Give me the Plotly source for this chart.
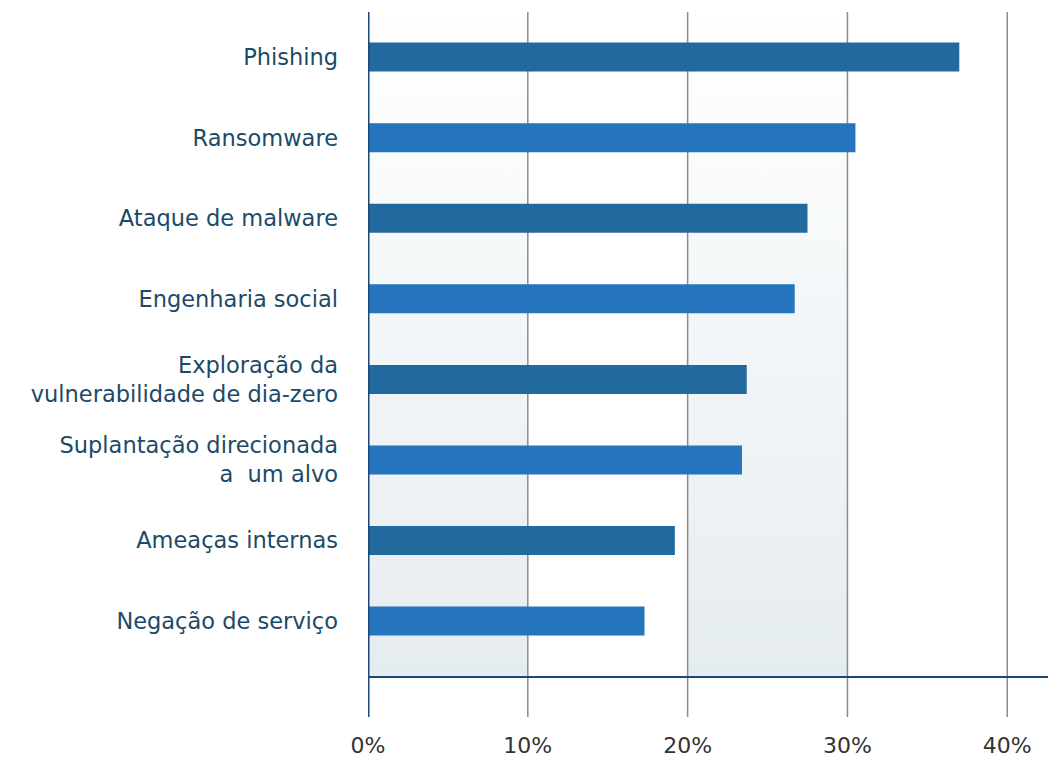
import plotly.graph_objects as go

# Threat categories, top to bottom, and share of respondents (%)
categories = [
    "Phishing",
    "Ransomware",
    "Ataque de malware",
    "Engenharia social",
    "Exploração da<br>vulnerabilidade de dia-zero",
    "Suplantação direcionada<br>a  um alvo",
    "Ameaças internas",
    "Negação de serviço",
]
values = [37.0, 30.5, 27.5, 26.7, 23.7, 23.4, 19.2, 17.3]
x_ticks = [0, 10, 20, 30, 40]
x_tick_labels = ["0%", "10%", "20%", "30%", "40%"]

DARK = "#22699e"
LIGHT = "#2475bd"
NAVY = "#1d4775"
GRID = "#8c8c8c"
LABEL = "#1b4a68"

bar_colors = [DARK if i % 2 == 0 else LIGHT for i in range(len(values))]
positions = list(range(len(categories)))

# axis extents
x_max = 42.55
y_top = -0.56
y_bottom = 8.19
baseline = 7.695  # horizontal rule under the last bar

fig = go.Figure()

# shaded bands at 0-10% and 20-30%, fading from white to grey-blue
fig.add_trace(go.Scatter(
    x=[0, 10, 10, 0, 0, None, 20, 30, 30, 20, 20],
    y=[y_top, y_top, baseline, baseline, y_top, None,
       y_top, y_top, baseline, baseline, y_top],
    fill="toself",
    mode="none",
    fillgradient=dict(type="vertical",
                      colorscale=[[0, "#ffffff"], [1, "#e5ecf0"]],
                      start=y_top, stop=baseline),
    hoverinfo="skip",
    showlegend=False,
))

# vertical grid lines
gx, gy = [], []
for t in x_ticks[1:]:
    gx += [t, t, None]
    gy += [y_top, y_bottom, None]
fig.add_trace(go.Scatter(
    x=gx, y=gy, mode="lines",
    line=dict(color=GRID, width=1.5),
    hoverinfo="skip", showlegend=False,
))

# bars on an overlaid subplot so they sit above bands and grid
fig.add_trace(go.Bar(
    x=values, y=positions, orientation="h",
    marker=dict(color=bar_colors, line=dict(width=0)),
    width=0.36,
    xaxis="x2", yaxis="y2",
    hoverinfo="skip", showlegend=False,
))

font_family = "DejaVu Sans, Open Sans, sans-serif"

fig.update_layout(
    width=1048, height=761,
    autosize=False,
    margin=dict(l=368, r=0, t=12, b=44),
    paper_bgcolor="white",
    plot_bgcolor="white",
    font=dict(family=font_family),
    xaxis=dict(
        range=[0, x_max],
        tickvals=x_ticks, ticktext=x_tick_labels,
        showgrid=False, zeroline=False, showline=False,
        ticks="", ticklabelstandoff=13, automargin=False,
        tickfont=dict(size=22, color="#333333", family=font_family),
        fixedrange=True,
    ),
    yaxis=dict(
        range=[y_bottom, y_top],
        tickvals=positions, ticktext=categories,
        showgrid=False, zeroline=False, showline=False,
        ticks="", ticklabelstandoff=29, automargin=False,
        tickfont=dict(size=22.5, color=LABEL, family=font_family),
        fixedrange=True,
    ),
    xaxis2=dict(overlaying="x", range=[0, x_max], visible=False,
                automargin=False, fixedrange=True),
    yaxis2=dict(overlaying="y", range=[y_bottom, y_top], visible=False,
                automargin=False, fixedrange=True),
    shapes=[
        dict(type="line", xref="x", yref="paper", x0=0, x1=0, y0=0, y1=1,
             line=dict(color=NAVY, width=3), layer="above"),
        dict(type="line", xref="paper", yref="y", x0=0, x1=1,
             y0=baseline, y1=baseline,
             line=dict(color=NAVY, width=2), layer="above"),
    ],
)

fig.write_html("out.html")
